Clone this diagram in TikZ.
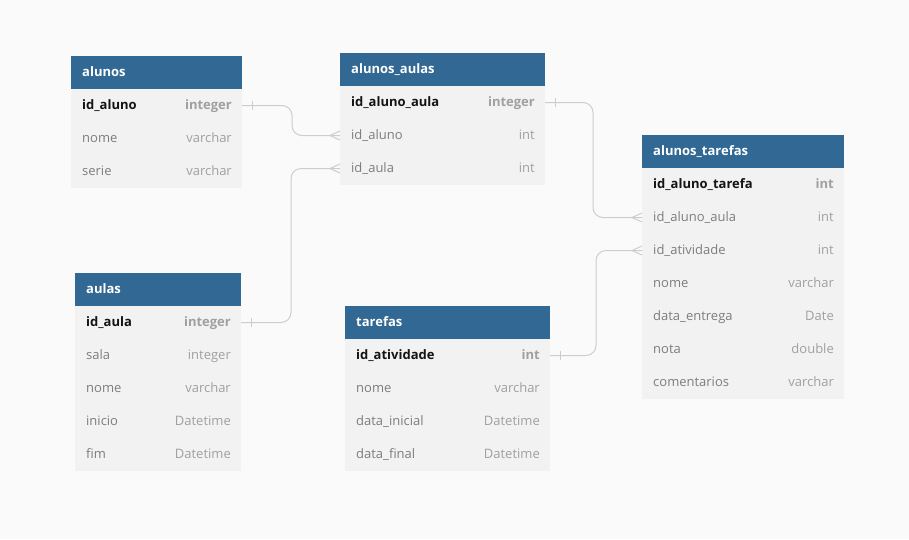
\documentclass[tikz,border=0pt]{standalone}
\usepackage{fontspec}
\setmainfont{Open Sans}
\definecolor{canvas}{RGB}{250,250,250}
\definecolor{hdrblue}{RGB}{49,104,148}
\definecolor{rowgray}{RGB}{242,242,242}
\definecolor{keyink}{RGB}{20,20,20}
\definecolor{fieldink}{RGB}{125,125,125}
\definecolor{typeink}{RGB}{160,160,160}
\definecolor{linkgray}{RGB}{205,205,205}

\tikzset{
  x=1pt, y=-1pt,
  hdr/.style={fill=hdrblue, draw=none, minimum height=33pt, inner sep=0pt, outer sep=0pt, anchor=north west},
  rowbox/.style={fill=rowgray, draw=none, minimum height=33pt, inner sep=0pt, outer sep=0pt, anchor=north west},
  hdrtext/.style={anchor=base west, inner sep=0pt, text=white, font=\fontsize{13}{15}\selectfont\bfseries},
  keyname/.style={anchor=base west, inner sep=0pt, text=keyink, font=\fontsize{13}{15}\selectfont\bfseries},
  keytype/.style={anchor=base east, inner sep=0pt, text=typeink, font=\fontsize{13}{15}\selectfont\bfseries},
  fieldname/.style={anchor=base west, inner sep=0pt, text=fieldink, font=\fontsize{13}{15}\selectfont},
  fieldtype/.style={anchor=base east, inner sep=0pt, text=typeink, font=\fontsize{13}{15}\selectfont},
  link/.style={draw=linkgray, line width=1pt, rounded corners=10pt},
  linkmark/.style={draw=linkgray, line width=1pt},
}

% #1 table name, #2 x, #3 top y, #4 width, #5 title, #6 rows key/field/type (first row is the key)
\newcommand\dbtable[6]{%
  \node[hdr, minimum width=#4pt] (#1) at (#2,#3) {};
  \node[hdrtext] (#1-title) at ([xshift=11pt,yshift=-4pt]#1.west) {#5};
  \foreach \k/\f/\t [count=\i] in {#6} {
    \pgfmathsetmacro\ry{#3+33*\i}
    \node[rowbox, minimum width=#4pt] (#1-\k) at (#2,\ry) {};
    \ifnum\i=1
      \node[keyname] (#1-\k-name) at ([xshift=11pt,yshift=-4pt]#1-\k.west) {\f};
      \node[keytype] (#1-\k-type) at ([xshift=-10pt,yshift=-4pt]#1-\k.east) {\t};
    \else
      \node[fieldname] (#1-\k-name) at ([xshift=11pt,yshift=-4pt]#1-\k.west) {\f};
      \node[fieldtype] (#1-\k-type) at ([xshift=-10pt,yshift=-4pt]#1-\k.east) {\t};
    \fi
  }%
}

% one-to-many link: bar at the "one" end, crow's foot at the "many" end
% #1 source row, #2 target row, #3 horizontal run before the bend
\newcommand\onetomany[3]{%
  \draw[link] (#1.east) -- ([xshift=#3pt]#1.east) |- (#2.west);
  \draw[linkmark] ([xshift=10pt,yshift=4.5pt]#1.east) -- ([xshift=10pt,yshift=-4.5pt]#1.east);
  \draw[linkmark] ([yshift=4.5pt]#2.west) -- ([xshift=-10pt]#2.west) -- ([yshift=-4.5pt]#2.west);
}

\begin{document}
\begin{tikzpicture}
  \fill[canvas] (0,0) rectangle (909,539);
  \useasboundingbox (0,0) rectangle (909,539);

  \dbtable{alunos}{71}{56}{171}{alunos}{
    idaluno/id\_aluno/integer, nome/nome/varchar, serie/serie/varchar}

  \dbtable{alunosaulas}{340}{53}{205}{alunos\_aulas}{
    idalunoaula/id\_aluno\_aula/integer, idaluno/id\_aluno/int, idaula/id\_aula/int}

  \dbtable{alunostarefas}{642}{135}{202}{alunos\_tarefas}{
    idalunotarefa/id\_aluno\_tarefa/int, idalunoaula/id\_aluno\_aula/int,
    idatividade/id\_atividade/int, nome/nome/varchar, dataentrega/data\_entrega/Date,
    nota/nota/double, comentarios/comentarios/varchar}

  \dbtable{aulas}{75}{273}{166}{aulas}{
    idaula/id\_aula/integer, sala/sala/integer, nome/nome/varchar,
    inicio/inicio/Datetime, fim/fim/Datetime}

  \dbtable{tarefas}{345}{306}{205}{tarefas}{
    idatividade/id\_atividade/int, nome/nome/varchar,
    datainicial/data\_inicial/Datetime, datafinal/data\_final/Datetime}

  \onetomany{alunos-idaluno}{alunosaulas-idaluno}{50}
  \onetomany{aulas-idaula}{alunosaulas-idaula}{50}
  \onetomany{alunosaulas-idalunoaula}{alunostarefas-idalunoaula}{48}
  \onetomany{tarefas-idatividade}{alunostarefas-idatividade}{46}
\end{tikzpicture}
\end{document}
